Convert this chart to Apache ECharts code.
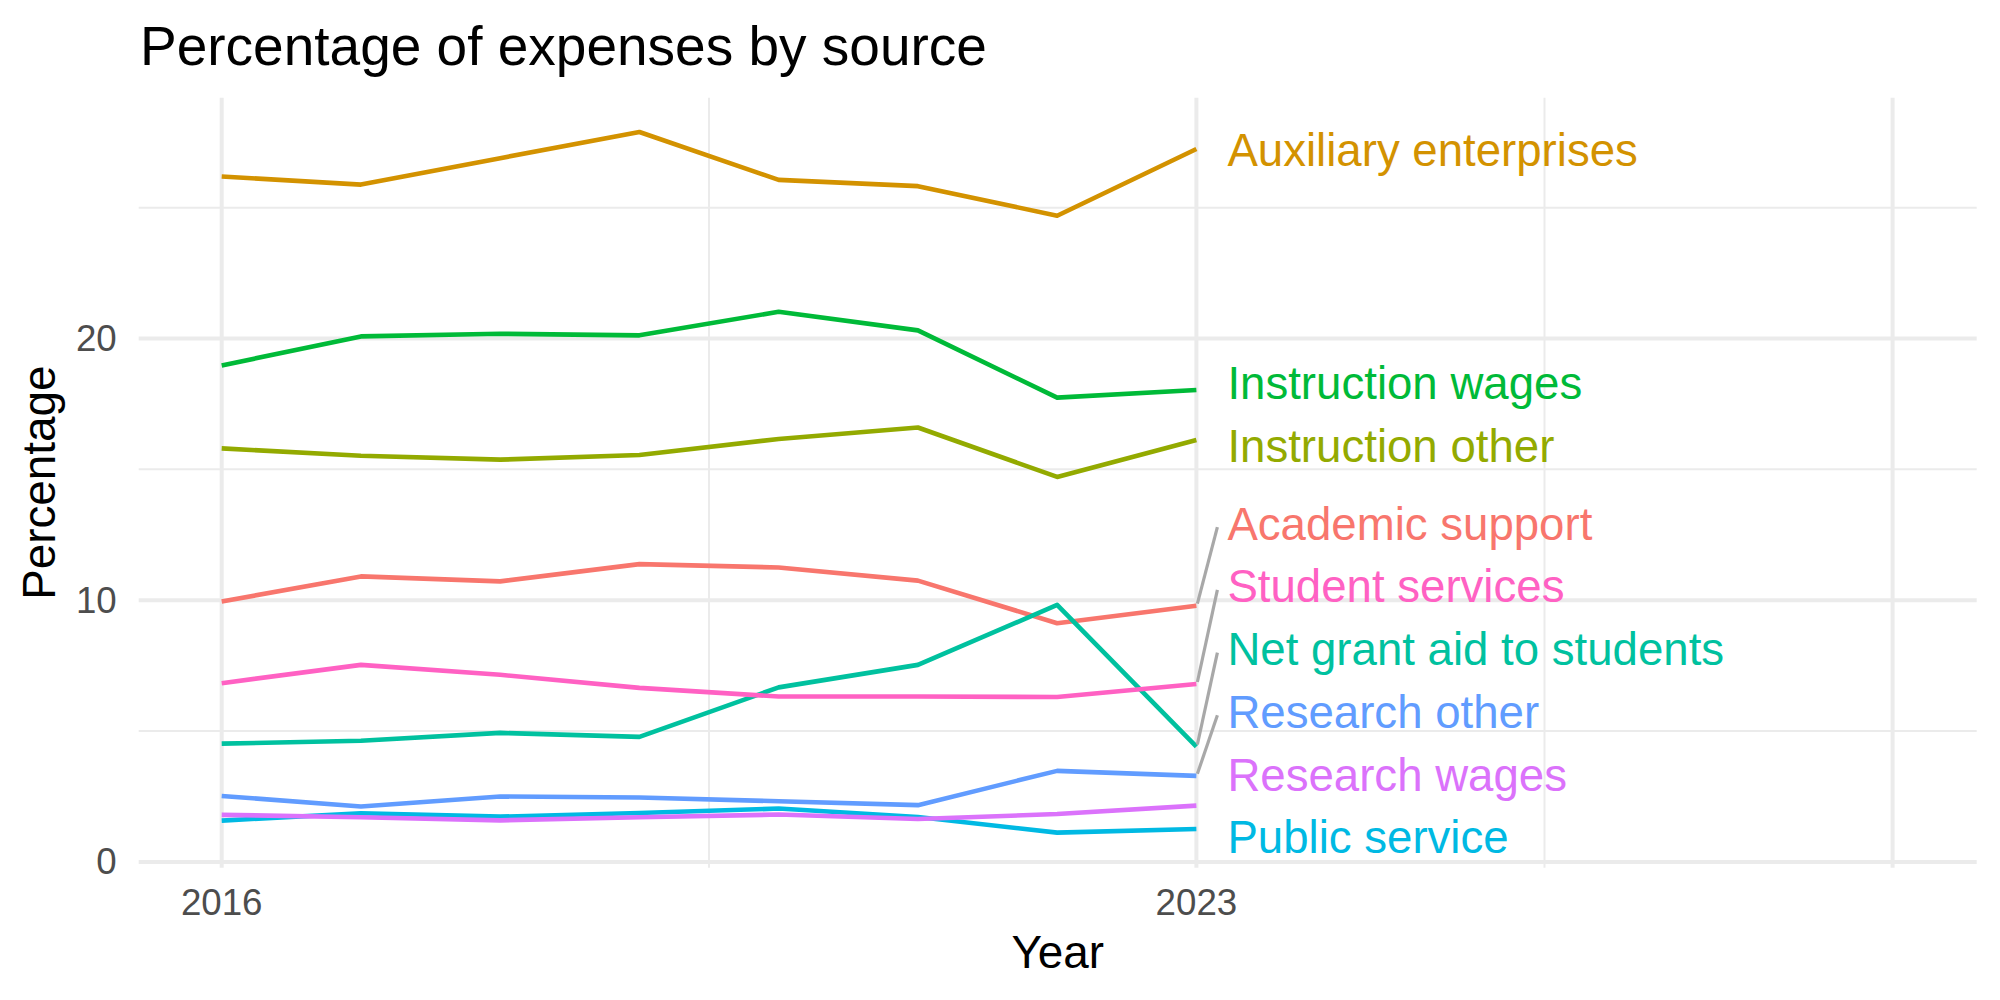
<!DOCTYPE html>
<html>
<head>
<meta charset="utf-8">
<script src="https://cdn.jsdelivr.net/npm/echarts@6/dist/echarts.min.js"></script>
<style>
html, body { margin: 0; padding: 0; background: #ffffff; }
#chart { width: 2000px; height: 1000px; }
</style>
</head>
<body>
<div id="chart"></div>
<script>
// ---------------- data ----------------
const years = [2016, 2017, 2018, 2019, 2020, 2021, 2022, 2023];
const academicSupport      = [9.95, 10.91, 10.72, 11.38, 11.25, 10.75, 9.12, 9.79];
const auxiliaryEnterprises = [26.19, 25.88, 26.89, 27.89, 26.06, 25.82, 24.69, 27.24];
const instructionOther     = [15.80, 15.52, 15.37, 15.55, 16.16, 16.60, 14.71, 16.12];
const instructionWages     = [18.97, 20.08, 20.18, 20.12, 21.02, 20.31, 17.74, 18.03];
const netGrantAid          = [4.52, 4.63, 4.93, 4.78, 6.67, 7.53, 9.82, 4.41];
const publicService        = [1.58, 1.86, 1.73, 1.87, 2.04, 1.72, 1.12, 1.26];
const researchOther        = [2.52, 2.12, 2.50, 2.46, 2.32, 2.17, 3.48, 3.29];
const researchWages        = [1.80, 1.71, 1.59, 1.71, 1.81, 1.64, 1.83, 2.15];
const studentServices      = [6.83, 7.53, 7.15, 6.65, 6.32, 6.32, 6.30, 6.80];

const categories = ['Academic support', 'Auxiliary enterprises', 'Instruction other',
  'Instruction wages', 'Net grant aid to students', 'Public service',
  'Research other', 'Research wages', 'Student services'];
const seriesValues = [academicSupport, auxiliaryEnterprises, instructionOther,
  instructionWages, netGrantAid, publicService, researchOther, researchWages, studentServices];

const xTickLabels = [2016, 2023];
const xMajorBreaks = [2016, 2023, 2028];
const xMinorBreaks = [2019.5, 2025.5];
const yTickLabels = [0, 10, 20];
const yMinorBreaks = [5, 15, 25];

const titleText = 'Percentage of expenses by source';
const xTitle = 'Year';
const yTitle = 'Percentage';

// ---------------- styles ----------------
const colors = ['#F8766D', '#D39200', '#93AA00', '#00BA38', '#00C19F',
  '#00B9E3', '#619CFF', '#DB72FB', '#FF61C3'];
const FONT = "'Liberation Sans', Arial, Helvetica, sans-serif";
const X_MIN = 2015.404, X_MAX = 2028.604;
const Y_MIN = -0.22, Y_MAX = 29.2;
const GRID = { left: 138.7, right: 23.3, top: 97.7, bottom: 132.3 };

// gridline specs
const gridSpec = [];
xMajorBreaks.forEach(v => gridSpec.push({ dir: 'x', v: v, major: true }));
xMinorBreaks.forEach(v => gridSpec.push({ dir: 'x', v: v, major: false }));
yTickLabels.forEach(v => gridSpec.push({ dir: 'y', v: v, major: true }));
yMinorBreaks.forEach(v => gridSpec.push({ dir: 'y', v: v, major: false }));

// label layout (simple 1D repel in pixel space)
const LABEL_SPACING = 62.7;
const LABEL_BOTTOM_MARGIN = 32;
const LABEL_DX = 31;
function layoutLabels(api, coordSys) {
  const last = years.length - 1;
  const items = seriesValues.map((vals, i) => {
    const p = api.coord([years[last], vals[last]]);
    return { i: i, px: p[0], py: p[1] };
  });
  items.sort((a, b) => a.py - b.py);
  const top = coordSys.y + LABEL_BOTTOM_MARGIN;
  const bottom = coordSys.y + coordSys.height - LABEL_BOTTOM_MARGIN;
  let clusters = items.map(it => ({ members: [it] }));
  function place(c) {
    const n = c.members.length;
    const mean = c.members.reduce((s, m) => s + m.py, 0) / n;
    let start = mean - (n - 1) * LABEL_SPACING / 2 - (n > 1 ? 2 : 0);
    start = Math.min(start, bottom - (n - 1) * LABEL_SPACING);
    start = Math.max(start, top);
    c.start = start;
  }
  let merged = true;
  while (merged) {
    merged = false;
    clusters.forEach(place);
    for (let k = 0; k < clusters.length - 1; k++) {
      const a = clusters[k], b = clusters[k + 1];
      if (a.start + a.members.length * LABEL_SPACING > b.start + 0.01) {
        a.members = a.members.concat(b.members);
        clusters.splice(k + 1, 1);
        merged = true;
        break;
      }
    }
  }
  const out = {};
  clusters.forEach(c => c.members.forEach((m, j) => {
    out[m.i] = { px: m.px, py: m.py, ly: c.start + j * LABEL_SPACING };
  }));
  return out;
}

const lineSeries = categories.map((name, i) => ({
  name: name,
  type: 'line',
  data: years.map((y, k) => [y, seriesValues[i][k]]),
  showSymbol: false,
  symbol: 'none',
  smooth: false,
  silent: true,
  z: 2,
  lineStyle: { color: colors[i], width: 4.6, cap: 'butt', join: 'round' },
  itemStyle: { color: colors[i] },
  emphasis: { disabled: true }
}));

const gridSeries = {
  type: 'custom',
  silent: true,
  z: 0,
  clip: false,
  data: gridSpec.map(g => g.dir === 'x' ? [g.v, Y_MIN] : [X_MIN, g.v]),
  renderItem: function (params, api) {
    const g = gridSpec[params.dataIndex];
    const cs = params.coordSys;
    const w = g.major ? 4 : 2;
    if (g.dir === 'x') {
      const px = api.coord([g.v, Y_MIN])[0];
      return { type: 'line', shape: { x1: px, y1: cs.y, x2: px, y2: cs.y + cs.height },
        style: { stroke: '#EBEBEB', lineWidth: w } };
    } else {
      const py = api.coord([X_MIN, g.v])[1];
      return { type: 'line', shape: { x1: cs.x, y1: py, x2: cs.x + cs.width, y2: py },
        style: { stroke: '#EBEBEB', lineWidth: w } };
    }
  }
};

const labelSeries = {
  type: 'custom',
  silent: true,
  z: 3,
  clip: false,
  data: categories.map((c, i) => [years[years.length - 1], seriesValues[i][years.length - 1]]),
  renderItem: function (params, api) {
    const lay = layoutLabels(api, params.coordSys)[params.dataIndex];
    const children = [];
    if (Math.abs(lay.ly - lay.py) > 45) {
      children.push({
        type: 'line',
        shape: { x1: lay.px + 1, y1: lay.py - 2, x2: lay.px + LABEL_DX - 10, y2: lay.ly + 5 },
        style: { stroke: '#A8A8A8', lineWidth: 3.2 }
      });
    }
    children.push({
      type: 'text',
      x: lay.px + LABEL_DX,
      y: lay.ly + 2,
      style: {
        text: categories[params.dataIndex],
        fill: colors[params.dataIndex],
        fontSize: 45.6,
        fontFamily: FONT,
        align: 'left',
        verticalAlign: 'middle'
      }
    });
    return { type: 'group', children: children };
  }
};

const chart = echarts.init(document.getElementById('chart'), null, { renderer: 'svg', width: 2000, height: 1000 });
chart.setOption({
  backgroundColor: '#ffffff',
  animation: false,
  tooltip: { show: false },
  legend: { show: false },
  grid: { left: GRID.left, right: GRID.right, top: GRID.top, bottom: GRID.bottom, containLabel: false },
  xAxis: {
    type: 'value',
    min: X_MIN, max: X_MAX,
    axisLine: { show: false },
    axisTick: { show: false },
    splitLine: { show: false },
    minorSplitLine: { show: false },
    axisLabel: {
      customValues: xTickLabels,
      formatter: v => String(Math.round(v)),
      color: '#4D4D4D',
      fontSize: 36.7,
      fontFamily: FONT,
      margin: 35,
      verticalAlign: 'middle',
      showMinLabel: true,
      showMaxLabel: true
    }
  },
  yAxis: {
    type: 'value',
    min: Y_MIN, max: Y_MAX,
    axisLine: { show: false },
    axisTick: { show: false },
    splitLine: { show: false },
    minorSplitLine: { show: false },
    axisLabel: {
      customValues: yTickLabels,
      formatter: v => String(Math.round(v)),
      color: '#4D4D4D',
      fontSize: 36.7,
      fontFamily: FONT,
      margin: 22,
      verticalAlign: 'middle',
      padding: [10, 0, 0, 0]
    }
  },
  graphic: [
    { type: 'text', x: 140, y: 45.7, silent: true,
      style: { text: titleText, fill: '#000000', fontSize: 55, fontFamily: FONT, align: 'left', verticalAlign: 'middle' } },
    { type: 'text', x: 1057.7, y: 952.5, silent: true,
      style: { text: xTitle, fill: '#000000', fontSize: 45.8, fontFamily: FONT, align: 'center', verticalAlign: 'middle' } },
    { type: 'text', x: 39, y: 482.7, rotation: Math.PI / 2, silent: true,
      style: { text: yTitle, fill: '#000000', fontSize: 45.8, fontFamily: FONT, align: 'center', verticalAlign: 'middle' } }
  ],
  series: [gridSeries].concat(lineSeries).concat([labelSeries])
});
</script>
</body>
</html>
